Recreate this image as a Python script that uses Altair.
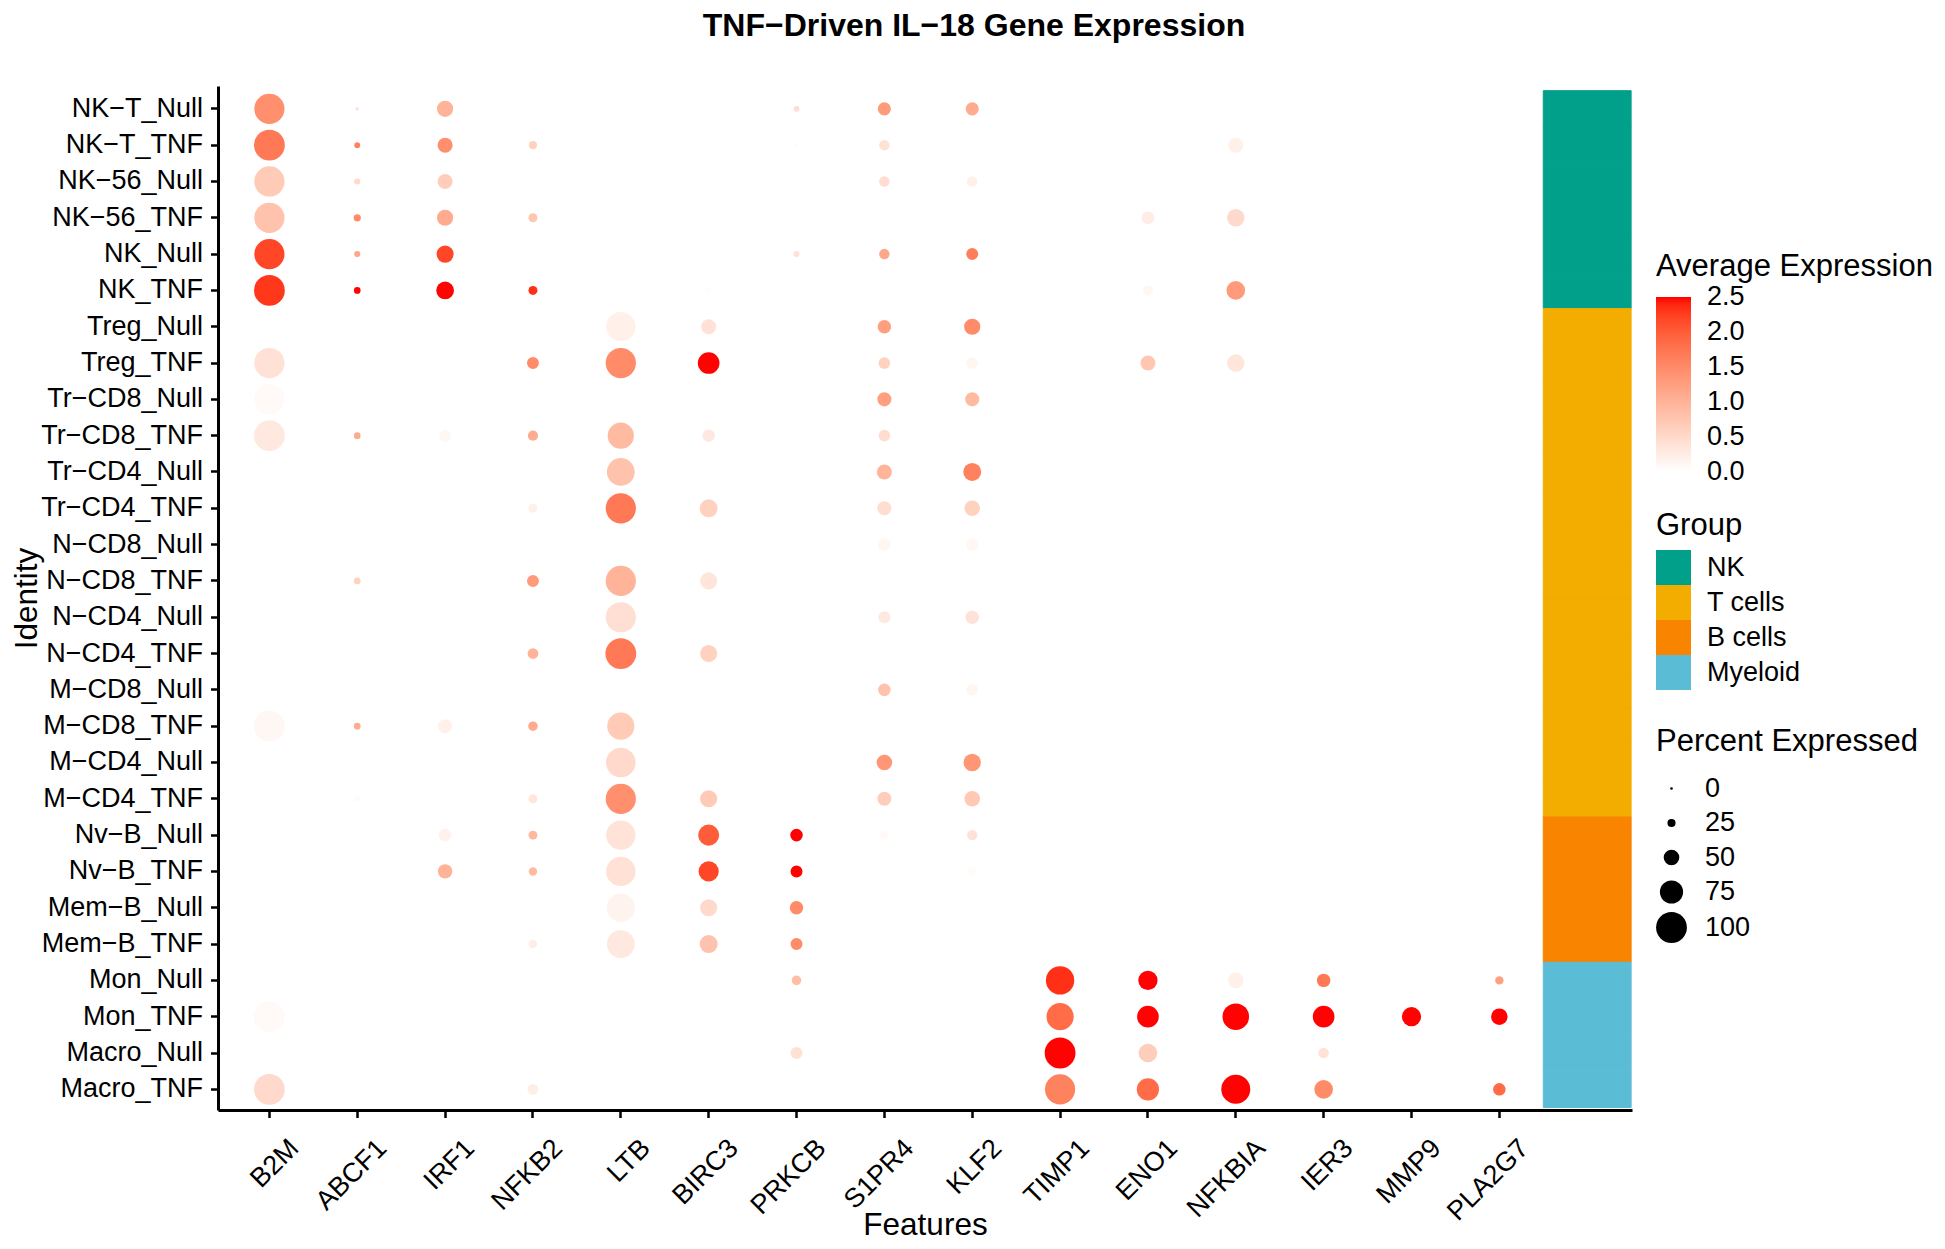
import altair as alt
import pandas as pd

FONT = "Liberation Sans"

identities = ["NK−T_Null", "NK−T_TNF", "NK−56_Null", "NK−56_TNF", "NK_Null", "NK_TNF",
              "Treg_Null", "Treg_TNF", "Tr−CD8_Null", "Tr−CD8_TNF", "Tr−CD4_Null", "Tr−CD4_TNF",
              "N−CD8_Null", "N−CD8_TNF", "N−CD4_Null", "N−CD4_TNF", "M−CD8_Null", "M−CD8_TNF",
              "M−CD4_Null", "M−CD4_TNF", "Nv−B_Null", "Nv−B_TNF", "Mem−B_Null", "Mem−B_TNF",
              "Mon_Null", "Mon_TNF", "Macro_Null", "Macro_TNF"]
identity_group = ["NK"] * 6 + ["T cells"] * 14 + ["B cells"] * 4 + ["Myeloid"] * 4
group_names = ["NK", "T cells", "B cells", "Myeloid"]
group_colors = ["#00A08A", "#F2AD00", "#F98400", "#5BBCD6"]

features = ["B2M", "ABCF1", "IRF1", "NFKB2", "LTB", "BIRC3", "PRKCB", "S1PR4", "KLF2",
            "TIMP1", "ENO1", "NFKBIA", "IER3", "MMP9", "PLA2G7"]

# average expression (per identity, top to bottom) and percent expressed
B2M_avg = [1.45, 1.7, 0.7, 0.8, 2.2, 2.3, 0, 0.4, 0.07, 0.3, 0, 0, 0, 0, 0, 0, 0, 0.1, 0, 0, 0, 0, 0, 0, 0, 0.06, 0, 0.5]
B2M_pct = [98, 100, 98, 98, 98, 100, 0, 98, 98, 100, 0, 0, 0, 0, 0, 0, 0, 100, 0, 0, 0, 0, 0, 0, 0, 100, 0, 100]
ABCF1_avg = [0.4, 1.6, 0.5, 1.5, 1.15, 2.5, 0, 0, 0, 1.1, 0, 0, 0, 0.6, 0, 0, 0, 1.1, 0, 0.07, 0, 0, 0, 0, 0, 0, 0, 0]
ABCF1_pct = [8, 17, 18, 22, 18, 20, 0, 0, 0, 20, 0, 0, 0, 20, 0, 0, 0, 20, 0, 15, 0, 0, 0, 0, 0, 0, 0, 0]
IRF1_avg = [1.0, 1.45, 0.65, 1.1, 2.2, 2.5, 0, 0, 0, 0.1, 0, 0, 0, 0, 0, 0, 0, 0.2, 0, 0, 0.18, 1.0, 0, 0, 0, 0, 0, 0]
IRF1_pct = [52, 48, 48, 52, 55, 57, 0, 0, 0, 38, 0, 0, 0, 0, 0, 0, 0, 45, 0, 0, 40, 46, 0, 0, 0, 0, 0, 0]
NFKB2_avg = [0, 0.6, 0, 0.75, 0, 2.35, 0, 1.5, 0, 1.1, 0, 0.2, 0, 1.3, 0, 1.0, 0, 1.1, 0, 0.35, 0.95, 0.9, 0, 0.22, 0, 0, 0, 0.22]
NFKB2_pct = [0, 25, 0, 28, 0, 28, 0, 38, 0, 32, 0, 28, 0, 38, 0, 34, 0, 30, 0, 28, 28, 26, 0, 26, 0, 0, 0, 34]
LTB_avg = [0, 0, 0, 0, 0, 0, 0.2, 1.5, 0, 0.9, 0.8, 1.7, 0, 1.0, 0.42, 1.7, 0, 0.7, 0.5, 1.45, 0.37, 0.4, 0.16, 0.3, 0, 0, 0, 0]
LTB_pct = [0, 0, 0, 0, 0, 0, 95, 98, 0, 85, 90, 98, 0, 98, 98, 100, 0, 88, 96, 98, 95, 95, 92, 90, 0, 0, 0, 0]
BIRC3_avg = [0, 0, 0, 0, 0, 0.05, 0.4, 2.5, 0, 0.3, 0, 0.6, 0, 0.35, 0, 0.6, 0, 0, 0, 0.7, 2.0, 2.2, 0.5, 0.8, 0, 0, 0, 0]
BIRC3_pct = [0, 0, 0, 0, 0, 10, 48, 70, 0, 40, 0, 58, 0, 55, 0, 55, 0, 0, 0, 55, 68, 65, 55, 58, 0, 0, 0, 0]
PRKCB_avg = [0.45, 0.05, 0, 0, 0.4, 0, 0, 0, 0, 0, 0, 0, 0, 0, 0, 0, 0, 0, 0, 0, 2.5, 2.5, 1.5, 1.5, 0.85, 0, 0.4, 0]
PRKCB_pct = [17, 10, 0, 0, 18, 0, 0, 0, 0, 0, 0, 0, 0, 0, 0, 0, 0, 0, 0, 0, 40, 38, 43, 38, 30, 0, 38, 0]
S1PR4_avg = [1.3, 0.4, 0.45, 0, 1.15, 0, 1.25, 0.6, 1.25, 0.45, 1.0, 0.45, 0.12, 0, 0.3, 0, 0.8, 0, 1.35, 0.65, 0.06, 0, 0, 0, 0, 0, 0, 0]
S1PR4_pct = [42, 33, 33, 0, 33, 0, 43, 37, 45, 37, 48, 45, 40, 0, 38, 0, 40, 0, 50, 45, 28, 0, 0, 0, 0, 0, 0, 0]
KLF2_avg = [1.1, 0, 0.2, 0, 1.65, 0, 1.5, 0.12, 0.9, 0, 1.6, 0.6, 0.1, 0, 0.38, 0, 0.12, 0, 1.35, 0.72, 0.38, 0.05, 0, 0, 0, 0, 0, 0]
KLF2_pct = [42, 0, 33, 0, 38, 0, 52, 37, 45, 0, 58, 50, 40, 0, 43, 0, 37, 0, 56, 50, 33, 28, 0, 0, 0, 0, 0, 0]
TIMP1_avg = [0, 0, 0, 0, 0, 0, 0, 0, 0, 0, 0, 0, 0, 0, 0, 0, 0, 0, 0, 0, 0, 0, 0, 0, 2.35, 1.85, 2.5, 1.6]
TIMP1_pct = [0, 0, 0, 0, 0, 0, 0, 0, 0, 0, 0, 0, 0, 0, 0, 0, 0, 0, 0, 0, 0, 0, 0, 0, 92, 88, 100, 98]
ENO1_avg = [0, 0, 0, 0.25, 0, 0.1, 0, 0.75, 0, 0, 0, 0, 0, 0, 0, 0, 0, 0, 0, 0, 0, 0, 0, 0, 2.5, 2.5, 0.65, 1.85]
ENO1_pct = [0, 0, 0, 40, 0, 33, 0, 48, 0, 0, 0, 0, 0, 0, 0, 0, 0, 0, 0, 0, 0, 0, 0, 0, 62, 70, 60, 72]
NFKBIA_avg = [0, 0.2, 0, 0.5, 0, 1.3, 0, 0.35, 0, 0, 0, 0, 0, 0, 0, 0, 0, 0, 0, 0, 0, 0, 0, 0, 0.2, 2.5, 0, 2.5]
NFKBIA_pct = [0, 48, 0, 56, 0, 60, 0, 56, 0, 0, 0, 0, 0, 0, 0, 0, 0, 0, 0, 0, 0, 0, 0, 0, 50, 86, 0, 94]
IER3_avg = [0, 0, 0, 0, 0, 0, 0, 0, 0, 0, 0, 0, 0, 0, 0, 0, 0, 0, 0, 0, 0, 0, 0, 0, 1.7, 2.5, 0.38, 1.5]
IER3_pct = [0, 0, 0, 0, 0, 0, 0, 0, 0, 0, 0, 0, 0, 0, 0, 0, 0, 0, 0, 0, 0, 0, 0, 0, 43, 70, 33, 60]
MMP9_avg = [0, 0, 0, 0, 0, 0, 0, 0, 0, 0, 0, 0, 0, 0, 0, 0, 0, 0, 0, 0, 0, 0, 0, 0, 0, 2.5, 0, 0]
MMP9_pct = [0, 0, 0, 0, 0, 0, 0, 0, 0, 0, 0, 0, 0, 0, 0, 0, 0, 0, 0, 0, 0, 0, 0, 0, 0, 62, 0, 0]
PLA2G7_avg = [0, 0, 0, 0, 0, 0, 0, 0, 0, 0, 0, 0, 0, 0, 0, 0, 0, 0, 0, 0, 0, 0, 0, 0, 1.25, 2.5, 0, 1.85]
PLA2G7_pct = [0, 0, 0, 0, 0, 0, 0, 0, 0, 0, 0, 0, 0, 0, 0, 0, 0, 0, 0, 0, 0, 0, 0, 0, 26, 53, 0, 40]

avg_by_feature = [B2M_avg, ABCF1_avg, IRF1_avg, NFKB2_avg, LTB_avg, BIRC3_avg, PRKCB_avg, S1PR4_avg,
                  KLF2_avg, TIMP1_avg, ENO1_avg, NFKBIA_avg, IER3_avg, MMP9_avg, PLA2G7_avg]
pct_by_feature = [B2M_pct, ABCF1_pct, IRF1_pct, NFKB2_pct, LTB_pct, BIRC3_pct, PRKCB_pct, S1PR4_pct,
                  KLF2_pct, TIMP1_pct, ENO1_pct, NFKBIA_pct, IER3_pct, MMP9_pct, PLA2G7_pct]

rows = []
for f, avgs, pcts in zip(features, avg_by_feature, pct_by_feature):
    for ident, a, p in zip(identities, avgs, pcts):
        rows.append({"Features": f, "Identity": ident, "Average Expression": a, "Percent Expressed": p})
dots = pd.DataFrame(rows)

bar = pd.DataFrame({"Features": ["Group"] * len(identities), "Identity": identities, "Group": identity_group})

x_scale = alt.Scale(domain=features + ["Group"], paddingInner=0, paddingOuter=0.0475, align=0.895)
y_scale = alt.Scale(domain=identities, paddingInner=0, paddingOuter=0.099, align=0.65)

x_axis = alt.Axis(values=features, labelAngle=-45, labelAlign="right", labelBaseline="top",
                  labelPadding=17, labelOffset=16, title="Features", titleY=124, titleBaseline="alphabetic")
y_axis = alt.Axis(title="Identity", labelPadding=8, titleX=-182, titleBaseline="alphabetic")

group_scale = alt.Scale(domain=group_names, range=group_colors)
LEG_X = 1438

bar_layer = alt.Chart(bar).mark_rect(strokeWidth=1).encode(
    x=alt.X("Features:N", scale=x_scale, axis=x_axis, sort=None),
    y=alt.Y("Identity:N", scale=y_scale, axis=y_axis, sort=None),
    fill=alt.Fill("Group:N", scale=group_scale,
                  legend=alt.Legend(title="Group", orient="none", legendX=LEG_X, legendY=425,
                                    symbolType="square", symbolSize=1225, symbolStrokeWidth=0,
                                    symbolOpacity=1, rowPadding=0, labelOffset=16, titlePadding=8)),
    stroke=alt.Stroke("Group:N", scale=group_scale, legend=None),
)

dot_layer = alt.Chart(dots).mark_circle(opacity=1, strokeWidth=0).encode(
    x=alt.X("Features:N", scale=x_scale, axis=x_axis, sort=None),
    y=alt.Y("Identity:N", scale=y_scale, axis=y_axis, sort=None),
    color=alt.Color("Average Expression:Q",
                    scale=alt.Scale(domain=[-0.004, 2.504], range=["#FFFFFF", "#FF0000"], interpolate="lab",
                                    clamp=True),
                    legend=alt.Legend(title="Average Expression", orient="none", legendX=LEG_X, legendY=166,
                                      gradientLength=175, gradientThickness=35, values=[0, 0.5, 1, 1.5, 2, 2.5],
                                      format=".1f", labelOffset=16, titlePadding=14, labelBaseline="middle",
                                      labelOverlap=False, titleLimit=500)),
    size=alt.Size("Percent Expressed:Q",
                  scale=alt.Scale(type="pow", exponent=2, domain=[0, 100], range=[7, 950]),
                  legend=alt.Legend(title="Percent Expressed", orient="none", legendX=LEG_X, legendY=641,
                                    values=[0, 25, 50, 75, 100], symbolFillColor="black", symbolStrokeWidth=0,
                                    symbolOpacity=1, labelOffset=18, titlePadding=17, rowPadding=6.5,
                                    titleLimit=500)),
)

chart = alt.layer(bar_layer, dot_layer).properties(
    width=1414, height=1024,
    autosize=alt.AutoSizeParams(type="none"),
    padding={"left": 210, "top": 78, "right": 305, "bottom": 131},
    title=alt.TitleParams("TNF−Driven IL−18 Gene Expression", fontSize=32, fontWeight="bold", font=FONT,
                          anchor="middle", dx=49, offset=43, color="black"),
).configure_axis(
    labelFont=FONT, labelFontSize=27, labelColor="black", titleFont=FONT, titleFontSize=31.5,
    titleFontWeight="normal", titleColor="black", domainColor="black", domainWidth=3,
    tickColor="black", tickWidth=2.5, tickSize=7.5, grid=False,
).configure_legend(
    titleFont=FONT, titleFontSize=31, titleFontWeight="normal", titleColor="black",
    labelFont=FONT, labelFontSize=27, labelColor="black", padding=0,
).configure_view(strokeWidth=0)

chart.save("out.html", embed_options={"renderer": "svg", "actions": False})
